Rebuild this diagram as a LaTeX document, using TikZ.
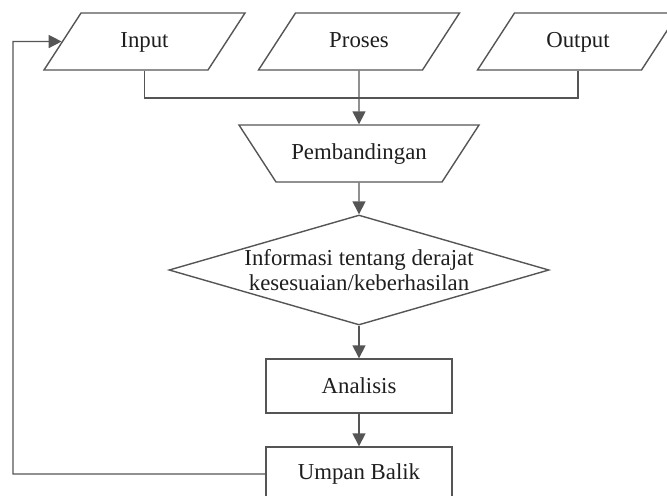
\documentclass[tikz,border=0pt]{standalone}
\usepackage{fontspec}
\setmainfont{Liberation Serif}
\usetikzlibrary{shapes.geometric,arrows.meta}
\definecolor{linegray}{HTML}{555555}
\definecolor{textgray}{HTML}{1E1E1E}
\tikzset{>={Triangle[length=6.5pt,width=6.5pt]}}

\begin{document}
\begin{tikzpicture}[x=0.5pt,y=-0.5pt,
    every node/.style={font=\fontsize{11.4}{12.5}\selectfont, text=textgray},
    box/.style={draw=linegray, line width=0.7pt, inner sep=0pt},
    slanted/.style={box, trapezium, trapezium stretches body,
      text height=8pt, text depth=2.5pt, inner ysep=9pt},
    io/.style={slanted, trapezium left angle=57, trapezium right angle=123, minimum width=100.5pt},
    compare/.style={slanted, trapezium left angle=123, trapezium right angle=123, minimum width=120pt},
    decision/.style={box, diamond, minimum width=190pt, minimum height=55pt},
    process/.style={box, rectangle, minimum width=93pt, minimum height=27pt},
    flow/.style={draw=linegray, line width=0.7pt}]
  \useasboundingbox (0,0) rectangle (667,495);
  % inputs
  \node [io] (input) at (144.5,41.5) {Input};
  \node [io] (proses) at (359,41.5) {Proses};
  \node [io] (output) at (578,41.5) {Output};
  \coordinate (join) at (359,98);
  \coordinate (back) at (13,41.5);
  % main column
  \node [compare] (pemb) at (359,153.5) {Pembandingan};
  \node [decision, label={[align=center]center:Informasi tentang derajat\\kesesuaian/keberhasilan}] (info) at (359,270) {};
  \node [process] (anal) at (359,386) {Analisis};
  \node [process] (umpan) at (359,474) {Umpan Balik};
  % connectors
  \draw [flow] (input.center |- input.south) |- (join) -| (output.center |- output.south);
  \draw [flow,->] (proses.center |- proses.south) -- (pemb.north);
  \draw [flow,->] (pemb.south) -- (info.north);
  \draw [flow,->] (info.south) -- (anal.north);
  \draw [flow,->] (anal.south) -- (umpan.north);
  \draw [flow,->] (umpan.west) -| (back) -- (input.west);
\end{tikzpicture}
\end{document}
